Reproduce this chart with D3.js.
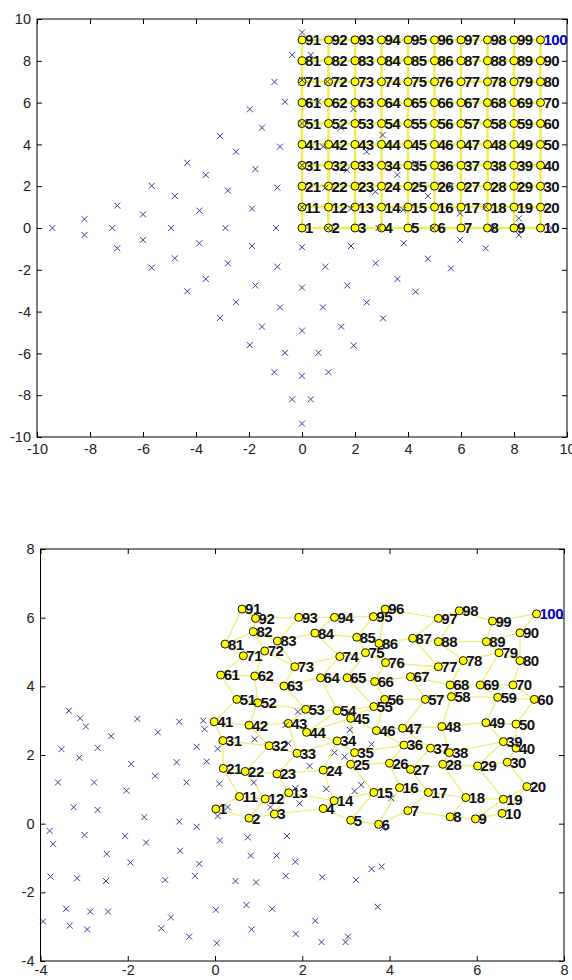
<!DOCTYPE html>
<html>
<head>
<meta charset="utf-8">
<script src="https://cdn.jsdelivr.net/npm/d3@7"></script>
<style>
  body { margin: 0; background: #fff; }
  svg { display: block; font-family: "Liberation Sans", Arial, sans-serif; }
</style>
</head>
<body>
<svg id="chart" width="572" height="980"></svg>
<script>
// grid layout of the real node positions (top panel)
const gridCols = [0, 1, 2, 3, 4, 5, 6, 7, 8, 9];
const gridRows = [0, 1, 2, 3, 4, 5, 6, 7, 8, 9];

// x markers, top panel
const topCrossX = [
  -8.21, -6.97, -6.0, -5.67, -4.8, -4.33, -3.87, -3.63, -3.09, -2.8, -2.49, -1.97, -1.89, -1.76, -1.51, -1.04, -0.93, -0.83, -0.64, -0.37,
  -8.21, -6.97, -6.0, -5.67, -4.8, -4.33, -3.87, -3.63, -3.09, -2.8, -2.49, -1.97, -1.89, -1.76, -1.51, -1.04, -0.93, -0.83, -0.64, -0.37,
  8.18, 6.93, 5.96, 5.62, 4.75, 4.29, 3.84, 3.6, 3.06, 2.78, 2.44, 1.95, 1.85, 1.71, 1.48, 1.0, 0.88, 0.79, 0.62, 0.33,
  8.18, 6.93, 5.96, 5.62, 4.75, 4.29, 3.82, 3.6, 3.04, 2.77, 2.44, 1.94, 1.85, 1.69, 1.47, 0.96, 0.88, 0.8, 0.62, 0.33,
  -0.98, -2.89, -4.94, -7.16, -9.42, 0.98, 2.89, 4.94, 7.16, 9.42,
  0, 0, 0, 0, 0, 0, 0, 0, 0, 0
];
const topCrossY = [
  0.42, 1.07, 0.65, 2.02, 1.53, 3.12, 0.83, 2.54, 4.4, 1.79, 3.65, 5.68, 0.93, 2.82, 4.8, 6.99, 1.93, 3.89, 6.04, 8.28,
  -0.33, -0.97, -0.57, -1.9, -1.45, -3.03, -0.73, -2.44, -4.3, -1.69, -3.55, -5.6, -0.86, -2.75, -4.72, -6.9, -1.85, -3.8, -5.97, -8.2,
  -0.33, -0.97, -0.57, -1.93, -1.47, -3.05, -0.73, -2.44, -4.32, -1.69, -3.56, -5.62, -0.86, -2.75, -4.72, -6.9, -1.85, -3.8, -5.97, -8.2,
  0.46, 1.02, 0.7, 2.0, 1.53, 3.1, 0.87, 2.54, 4.45, 1.74, 3.65, 5.69, 0.93, 2.78, 4.8, 7.0, 1.93, 3.9, 6.04, 8.28,
  0, 0, 0, 0, 0, 0, 0, 0, 0, 0,
  -0.92, -2.85, -4.91, -7.07, -9.36, 1.0, 3.0, 5.0, 7.08, 9.36
];

// estimated node positions, bottom panel (node 1..100)
const estX = [
  0.02, 0.78, 1.36, 2.48, 3.11, 3.75, 4.42, 5.39, 5.97, 6.58,
  0.56, 1.15, 1.69, 2.73, 3.64, 4.23, 4.89, 5.75, 6.61, 7.15,
  0.19, 0.69, 1.42, 2.48, 3.11, 4.0, 4.48, 5.22, 6.02, 6.7,
  0.18, 1.24, 1.88, 2.8, 3.2, 4.33, 4.94, 5.37, 6.61, 6.9,
  -0.02, 0.78, 1.68, 2.1, 3.11, 3.7, 4.3, 5.2, 6.21, 6.9,
  0.5, 0.98, 2.08, 2.8, 3.64, 3.89, 4.82, 5.42, 6.48, 7.32,
  0.13, 0.91, 1.58, 2.42, 3.03, 3.66, 4.48, 5.39, 6.08, 6.83,
  0.65, 1.14, 1.83, 2.86, 3.45, 3.91, 5.12, 5.69, 6.51, 6.99,
  0.23, 0.88, 1.43, 2.29, 3.25, 3.76, 4.53, 5.12, 6.22, 6.99,
  0.62, 0.93, 1.92, 2.74, 3.63, 3.9, 5.12, 5.6, 6.36, 7.37
];
const estY = [
  0.43, 0.16, 0.28, 0.44, 0.1, -0.02, 0.38, 0.2, 0.14, 0.3,
  0.79, 0.72, 0.9, 0.67, 0.91, 1.05, 0.91, 0.76, 0.71, 1.08,
  1.61, 1.52, 1.45, 1.56, 1.73, 1.76, 1.58, 1.73, 1.68, 1.79,
  2.42, 2.27, 2.05, 2.41, 2.07, 2.29, 2.2, 2.07, 2.39, 2.2,
  2.97, 2.87, 2.92, 2.66, 3.07, 2.71, 2.78, 2.83, 2.94, 2.9,
  3.62, 3.52, 3.33, 3.29, 3.41, 3.62, 3.62, 3.7, 3.68, 3.62,
  4.33, 4.3, 4.01, 4.25, 4.25, 4.14, 4.28, 4.04, 4.04, 4.04,
  4.89, 5.03, 4.57, 4.87, 4.98, 4.69, 4.57, 4.75, 4.98, 4.75,
  5.23, 5.59, 5.32, 5.55, 5.43, 5.25, 5.4, 5.3, 5.3, 5.56,
  6.25, 5.98, 6.01, 6.01, 6.03, 6.25, 5.98, 6.2, 5.9, 6.11
];

// x markers, bottom panel
const botCrossX = [
  -3.35, -3.09, -2.96, -2.38, -1.78, -1.31, -0.82, -0.27, -0.24, -3.52,
  -3.11, -2.69, -1.92, -0.88, -0.42, 0.06, -0.19, 0.91, -3.6, -2.77,
  -1.37, -0.65, 0.1, 0.89, -2.03, -3.24, -2.69, -1.62, -0.82, -0.42,
  0.06, 0.29, 1.27, -3.79, -3.71, -2.99, -2.06, -1.58, -2.48, -1.94,
  -0.8, -0.36, 0.11, 0.75, 0.82, 1.41, 1.65, 1.84, -3.77, -3.16,
  -2.5, -1.14, -0.46, 0.47, 0.94, 1.62, -3.41, -2.86, -2.45, -1.01,
  0.02, 0.72, 1.31, -3.94, -3.33, -2.93, -1.23, -0.59, 0.04, 0.84,
  1.85, 2.46, 3.23, 3.59, 3.82, 3.73, 2.3, 2.44, 3.05, 2.99,
  3.85, 2.55, 1.94, 2.17, 3.2, 3.35, 4.04, 2.74, 2.97, 3.59,
  3.09, 1.62, 1.9, 1.68, 1.84
];
const botCrossY = [
  3.29, 3.07, 2.83, 2.55, 3.05, 2.66, 2.97, 3.0, 2.75, 2.17,
  1.92, 2.21, 1.74, 1.79, 2.24, 2.18, 1.81, 2.46, 1.2, 1.2,
  1.39, 1.2, 1.16, 1.2, 0.96, 0.48, 0.4, 0.19, 0.06, -0.09,
  0.22, 0.48, 0.48, -0.21, -0.59, -0.33, -0.36, -0.55, -0.88, -1.13,
  -0.79, -1.17, -0.49, -0.4, -0.93, -0.93, -0.36, -1.11, -1.54, -1.59,
  -1.67, -1.64, -1.52, -1.67, -1.71, -1.52, -2.48, -2.56, -2.56, -2.73,
  -2.51, -2.37, -2.48, -2.85, -2.97, -3.08, -3.05, -3.29, -3.48, -3.08,
  -3.21, -1.56, -1.64, -1.32, -1.25, -2.42, -2.83, -3.45, -3.29, -3.45,
  -0.13, 1.01, 0.59, 1.68, 0.95, 1.13, 0.74, 2.07, 1.95, 2.31,
  2.73, 2.87, 3.26, 2.34, 1.03
];

const xTicksTop = [-10, -8, -6, -4, -2, 0, 2, 4, 6, 8, 10];
const yTicksTop = [-10, -8, -6, -4, -2, 0, 2, 4, 6, 8, 10];
const xTicksBot = [-4, -2, 0, 2, 4, 6, 8];
const yTicksBot = [-4, -2, 0, 2, 4, 6, 8];

const svg = d3.select("#chart");

// nodes of the top panel sit on the grid
const gridNodes = [];
gridRows.forEach(r => gridCols.forEach(c => gridNodes.push({ id: r * 10 + c + 1, x: c, y: r })));
const estNodes = estX.map((x, i) => ({ id: i + 1, x: x, y: estY[i] }));

// links between grid neighbours
const links = [];
gridNodes.forEach(n => {
  const c = (n.id - 1) % 10;
  if (c < 9) links.push([n.id - 1, n.id]);
  if (n.id + 10 <= 100) links.push([n.id - 1, n.id + 9]);
});

function drawPanel(opts) {
  const x = d3.scaleLinear().domain(opts.xDomain).range([opts.left, opts.right]);
  const y = d3.scaleLinear().domain(opts.yDomain).range([opts.bottom, opts.top]);
  const g = svg.append("g");

  // links
  g.append("g")
    .selectAll("line")
    .data(links)
    .join("line")
    .attr("x1", d => x(opts.nodes[d[0]].x))
    .attr("y1", d => y(opts.nodes[d[0]].y))
    .attr("x2", d => x(opts.nodes[d[1]].x))
    .attr("y2", d => y(opts.nodes[d[1]].y))
    .attr("stroke", opts.linkColor)
    .attr("stroke-width", opts.linkWidth);

  // nodes
  g.append("g")
    .selectAll("circle")
    .data(opts.nodes)
    .join("circle")
    .attr("cx", d => x(d.x))
    .attr("cy", d => y(d.y))
    .attr("r", 4)
    .attr("fill", "#ffff00")
    .attr("stroke", "#111")
    .attr("stroke-width", 1);

  g.append("g")
    .selectAll("text")
    .data(opts.nodes)
    .join("text")
    .attr("x", d => x(d.x) + 3)
    .attr("y", d => y(d.y))
    .attr("dy", "0.36em")
    .attr("font-size", 15)
    .attr("font-weight", "bold")
    .attr("letter-spacing", -0.5)
    .attr("fill", d => d.id === 100 ? "#0000cc" : "#111")
    .text(d => d.id);

  // x markers
  const cs = 3;
  g.append("g")
    .selectAll("path")
    .data(opts.crossX.map((v, i) => [v, opts.crossY[i]]))
    .join("path")
    .attr("d", d => {
      const px = x(d[0]), py = y(d[1]);
      return `M${px - cs},${py - cs}L${px + cs},${py + cs}M${px - cs},${py + cs}L${px + cs},${py - cs}`;
    })
    .attr("stroke", "#3c3c96")
    .attr("stroke-width", 1)
    .attr("fill", "none");

  // axes box with ticks inside on all sides
  const tick = 5;
  const fmt = d => String(d);
  const axisStyle = a => {
    a.select(".domain").remove();
    a.selectAll(".tick line").attr("stroke", "#000");
    a.selectAll(".tick text").attr("fill", "#222").attr("font-size", 14.5).attr("font-family", "Liberation Sans, Arial, sans-serif");
  };
  g.append("g").attr("transform", `translate(0,${opts.bottom})`)
    .call(d3.axisBottom(x).tickValues(opts.xTicks).tickFormat(fmt).tickSizeInner(-tick).tickSizeOuter(0).tickPadding(opts.xPad))
    .call(axisStyle);
  g.append("g").attr("transform", `translate(0,${opts.top})`)
    .call(d3.axisTop(x).tickValues(opts.xTicks).tickSizeInner(-tick).tickSizeOuter(0).tickFormat(""))
    .call(axisStyle);
  g.append("g").attr("transform", `translate(${opts.left},0)`)
    .call(d3.axisLeft(y).tickValues(opts.yTicks).tickFormat(fmt).tickSizeInner(-tick).tickSizeOuter(0).tickPadding(6))
    .call(axisStyle);
  g.append("g").attr("transform", `translate(${opts.right},0)`)
    .call(d3.axisRight(y).tickValues(opts.yTicks).tickSizeInner(-tick).tickSizeOuter(0).tickFormat(""))
    .call(axisStyle);

  g.append("rect")
    .attr("x", opts.left).attr("y", opts.top)
    .attr("width", opts.right - opts.left).attr("height", opts.bottom - opts.top)
    .attr("fill", "none").attr("stroke", "#000").attr("stroke-width", 1);
}

drawPanel({
  xDomain: [-10, 10], yDomain: [-10, 10],
  left: 37, right: 567, top: 19, bottom: 437,
  nodes: gridNodes, crossX: topCrossX, crossY: topCrossY,
  xTicks: xTicksTop, yTicks: yTicksTop, xPad: 7,
  linkColor: "#f0f050", linkWidth: 2.5
});

drawPanel({
  xDomain: [-4, 8], yDomain: [-4, 8],
  left: 40.5, right: 564, top: 549, bottom: 961,
  nodes: estNodes, crossX: botCrossX, crossY: botCrossY,
  xTicks: xTicksBot, yTicks: yTicksBot, xPad: 4,
  linkColor: "#eeee7a", linkWidth: 1.3
});
</script>
</body>
</html>
